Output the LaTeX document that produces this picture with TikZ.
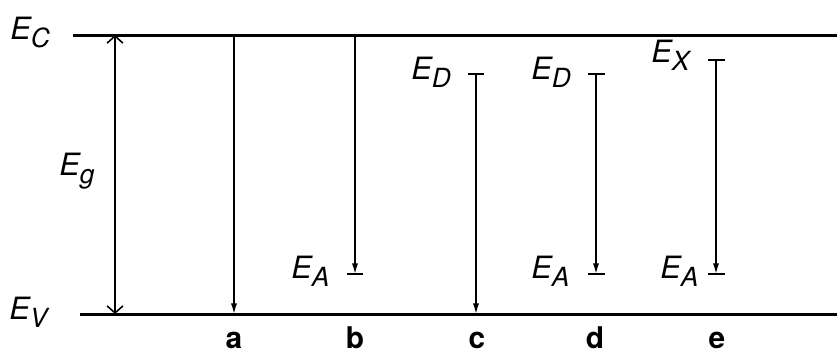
\documentclass[tikz,border=0pt]{standalone}
\usepackage{fontspec}
\setmainfont{TeX Gyre Heros}
\usetikzlibrary{arrows.meta}

\newcommand{\En}[1]{\textit{E\raisebox{-5pt}{\fontsize{15}{15}\selectfont #1}}}

\begin{document}
\begin{tikzpicture}[x=0.02cm,y=-0.02cm,
    band/.style={line width=1.7pt},
    trans/.style={line width=0.9pt,-{Latex[length=6pt,width=3.5pt]}},
    lev/.style={line width=0.9pt},
    elbl/.style={font=\fontsize{17.5}{18}\selectfont,inner sep=0pt,anchor=base west},
    clbl/.style={font=\fontsize{17}{17}\selectfont\bfseries,inner sep=0pt,anchor=base}]
    \useasboundingbox (0,0) rectangle (837,353);
    % bands
    \coordinate (c0) at (73,35); \coordinate (c1) at (837,35);
    \coordinate (v0) at (80,314); \coordinate (v1) at (837,314);
    \draw[band] (c0) -- (c1); \draw[band] (v0) -- (v1);
    \node[elbl] (ec) at (10,39) {\En{C}};
    \node[elbl] (ev) at (9,319) {\En{V}};
    % gap
    \coordinate (g0) at (115,35); \coordinate (g1) at (115,314);
    \draw[line width=0.9pt,{Straight Barb[length=4pt,width=9pt]}-{Straight Barb[length=4pt,width=9pt]}] (g0) -- (g1);
    \node[elbl] (eg) at (59,175) {\En{g}};
    % a
    \coordinate (a0) at (234,35); \coordinate (a1) at (234,314);
    \draw[trans] (a0) -- (a1);
    % b
    \coordinate (b0) at (355,35); \coordinate (b1) at (355,274);
    \draw[trans] (b0) -- (b1);
    \draw[lev] (347,274) -- (363,274);
    \node[elbl] (ea1) at (291,278) {\En{A}};
    % c
    \coordinate (c2) at (476,74); \coordinate (c3) at (476,314);
    \draw[lev] (468,74) -- (484,74);
    \draw[trans] (c2) -- (c3);
    \node[elbl] (ed1) at (411,79) {\En{D}};
    % d
    \coordinate (d0) at (596,74); \coordinate (d1) at (596,274);
    \draw[lev] (588,74) -- (605,74); \draw[lev] (588,274) -- (605,274);
    \draw[trans] (d0) -- (d1);
    \node[elbl] (ed2) at (531,79) {\En{D}};
    \node[elbl] (ea2) at (531,278) {\En{A}};
    % e
    \coordinate (e0) at (716,60); \coordinate (e1) at (716,274);
    \draw[lev] (708,60) -- (725,60); \draw[lev] (708,274) -- (725,274);
    \draw[trans] (e0) -- (e1);
    \node[elbl] (ex) at (651,62) {\En{X}};
    \node[elbl] (ea3) at (660,278) {\En{A}};
    % labels
    \node[clbl] (la) at (234,348) {a};
    \node[clbl] (lb) at (355,348) {b};
    \node[clbl] (lc) at (477,348) {c};
    \node[clbl] (ld) at (595,348) {d};
    \node[clbl] (le) at (717,348) {e};
\end{tikzpicture}
\end{document}
